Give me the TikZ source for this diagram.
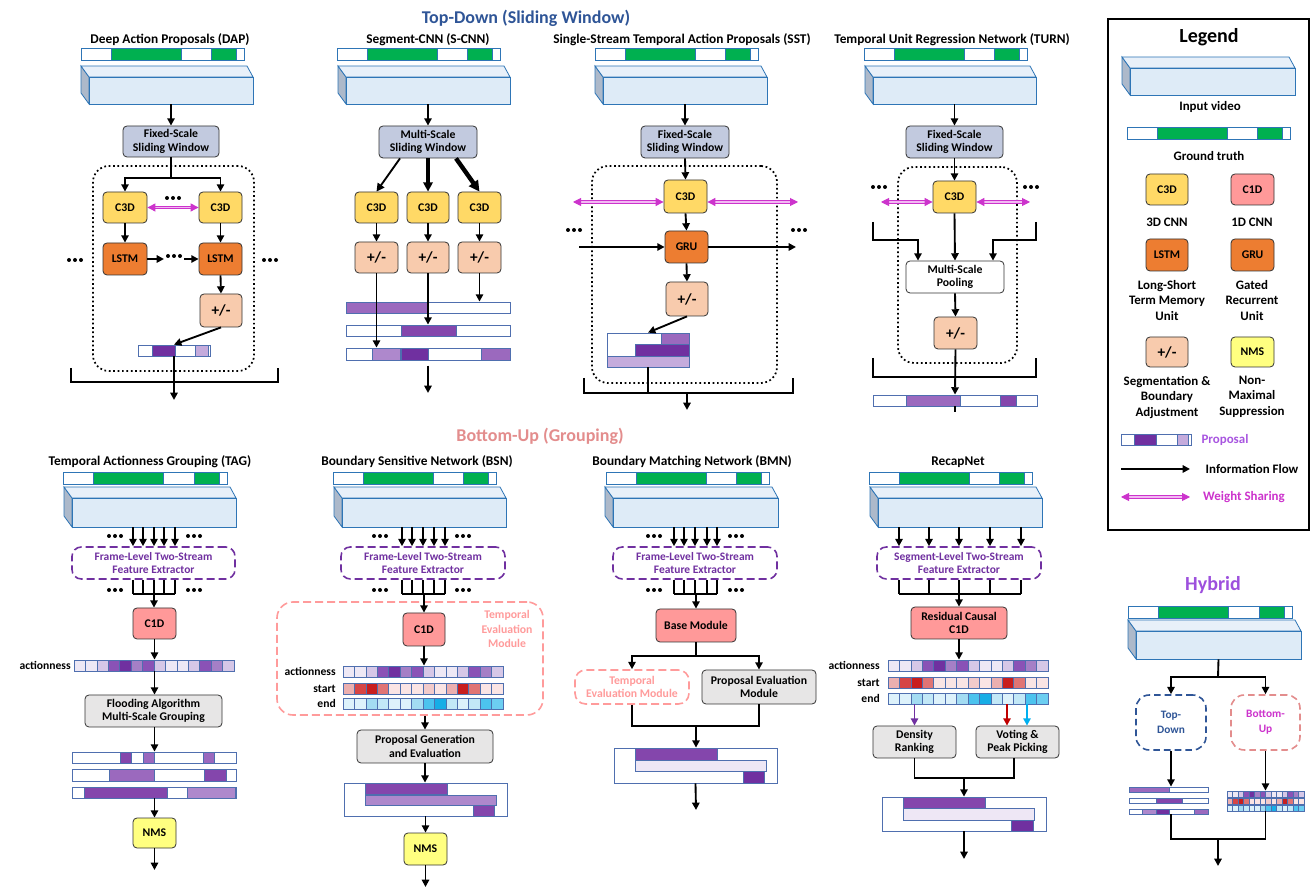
\documentclass[tikz,border=0pt]{standalone}
\usepackage{fontspec}
\setmainfont{Carlito}
\usetikzlibrary{arrows.meta}

\definecolor{vidb}{HTML}{2E75B6}
\definecolor{vidfront}{HTML}{DEEBF7}
\definecolor{vidtop}{HTML}{E8F0F9}
\definecolor{vidside}{HTML}{ADB9CA}
\definecolor{gtg}{HTML}{00B050}
\definecolor{pbord}{HTML}{4F6FAF}
\definecolor{prD}{HTML}{7030A0}
\definecolor{prM}{HTML}{8446AC}
\definecolor{prL}{HTML}{9B69BE}
\definecolor{prLL}{HTML}{AE88CC}
\definecolor{prVL}{HTML}{C5ABDC}
\definecolor{prW}{HTML}{EEE7F5}
\definecolor{pA}{HTML}{EEE8F5}
\definecolor{pB}{HTML}{D6C7E7}
\definecolor{pC}{HTML}{A57FC6}
\definecolor{pD}{HTML}{8A52B6}
\definecolor{pE}{HTML}{7030A0}
\definecolor{sA}{HTML}{FAE4E4}
\definecolor{sB}{HTML}{F2CACA}
\definecolor{sB2}{HTML}{ECAFAF}
\definecolor{sC}{HTML}{E07474}
\definecolor{sD}{HTML}{D64545}
\definecolor{sE}{HTML}{C81E1E}
\definecolor{eA}{HTML}{DDF2FB}
\definecolor{eB}{HTML}{C2E8F7}
\definecolor{eC}{HTML}{A3DCF2}
\definecolor{eD}{HTML}{4CC3EE}
\definecolor{eD2}{HTML}{6CCEF1}
\definecolor{eE}{HTML}{17ADE6}
\definecolor{slw}{HTML}{C2CADF}
\definecolor{c3dc}{HTML}{FFD966}
\definecolor{lstmc}{HTML}{ED7D31}
\definecolor{pmc}{HTML}{F8CBAD}
\definecolor{nmsc}{HTML}{FFFF80}
\definecolor{c1dc}{HTML}{FF9999}
\definecolor{grc}{HTML}{E7E6E6}
\definecolor{tdc}{HTML}{2F5597}
\definecolor{buc}{HTML}{E38D8D}
\definecolor{hyc}{HTML}{9D50DD}
\definecolor{temc}{HTML}{FF9B9B}
\definecolor{magc}{HTML}{CC33CC}
\definecolor{magl}{HTML}{F2B8F2}
\definecolor{purt}{HTML}{7030A0}
\definecolor{propc}{HTML}{A855E0}
\definecolor{redc}{HTML}{C00000}
\definecolor{cyanc}{HTML}{00B0F0}

\tikzset{
 fl/.style={line width=1.4pt},
 flow/.style={line width=1.4pt, -{Triangle[length=5.5pt,width=5.5pt]}},
 wsh/.style={draw=magc, line width=0.7pt, double=magl, double distance=1.3pt, {Triangle[length=6pt,width=6pt]}-{Triangle[length=6pt,width=6pt]}},
 bxs/.style={rounded corners=3pt, draw=black!80, line width=0.6pt, inner sep=0pt, align=center, font=\bfseries\fontsize{8.8}{10.3}\selectfont},
 slwb/.style={bxs, fill=slw},
 c3db/.style={bxs, fill=c3dc},
 lstmb/.style={bxs, fill=lstmc},
 pmb/.style={bxs, fill=pmc, font=\bfseries\fontsize{11.5}{12}\selectfont},
 nmsb/.style={bxs, fill=nmsc},
 c1db/.style={bxs, fill=c1dc},
 grb/.style={bxs, fill=grc},
 whb/.style={bxs, fill=white},
 dotb/.style={draw, line width=1.3pt, dash pattern=on 1.3pt off 2pt, rounded corners=12pt, inner sep=0pt},
 fext/.style={draw=purt, line width=1.2pt, dash pattern=on 6pt off 3pt, rounded corners=7pt, inner sep=0pt, align=center, text=purt, font=\bfseries\fontsize{8.6}{10.3}\selectfont},
 temb/.style={draw=temc, line width=1.2pt, dash pattern=on 6pt off 3pt, rounded corners=12pt, inner sep=0pt},
 ttl/.style={inner sep=0pt, font=\bfseries\fontsize{10}{11}\selectfont},
 sec/.style={inner sep=0pt, font=\bfseries\fontsize{13.5}{15}\selectfont},
 lbl/.style={inner sep=0pt, font=\bfseries\fontsize{8.7}{10}\selectfont},
 leg/.style={inner sep=0pt, align=center, font=\bfseries\fontsize{9.7}{11.5}\selectfont},
 barb/.style={draw=pbord, fill=white, line width=0.6pt, inner sep=0pt},
}

\newcommand\bx[7]{\node[#2, minimum width={0.75*(#5-#3)}, minimum height={0.75*(#6-#4)}] (#1) at ({(#3+#5)/2},{(#4+#6)/2}) {#7};}
\newcommand\video[5]{%
 \filldraw[fill=vidside, draw=vidb, line width=0.6pt] (#2-8,#3-11) -- (#2,#3) -- (#2,#5) -- (#2-8,#5-11) -- cycle;
 \filldraw[fill=vidtop, draw=vidb, line width=0.6pt] (#2-8,#3-11) -- (#4-6,#3-11) -- (#4,#3) -- (#2,#3) -- cycle;
 \bx{#1}{draw=vidb, fill=vidfront, line width=0.6pt, inner sep=0pt}{#2}{#3}{#4}{#5}{}}
\newcommand\gt[4]{%
 \bx{#1}{draw=vidb, fill=white, line width=0.6pt, inner sep=0pt}{#2}{#4}{#3}{#4+12}{}
 \filldraw[fill=gtg, draw=vidb, line width=0.6pt] ({#2+0.185*(#3-#2)},#4) rectangle ({#2+0.615*(#3-#2)},#4+12);
 \filldraw[fill=gtg, draw=vidb, line width=0.6pt] ({#2+0.80*(#3-#2)},#4) rectangle ({#2+0.955*(#3-#2)},#4+12);}
\newcommand\sg[5]{\filldraw[fill=#5, draw=pbord, line width=0.6pt] (#1,#3) rectangle (#2,#4);}
\newcommand\cells[6]{%
 \bx{#1}{draw=pbord, line width=0.6pt, inner sep=0pt}{#2}{#4}{#3}{#4+#5}{}
 \foreach \cc [count=\ii] in #6 {\filldraw[fill=\cc, draw=pbord, line width=0.5pt] ({#2+(\ii-1)*(#3-#2)/14},#4) rectangle ({#2+\ii*(#3-#2)/14},#4+#5);}}
\newcommand\tdots[2]{\foreach \dd in {-6,0,6} {\fill (#1+\dd,#2) circle[radius=1.5pt];}}
\def\actseq{pA,pA,pB,pD,pE,pC,pD,pB,pA,pA,pB,pD,pC,pB}
\def\startseq{sB2,sD,sE,sC,sA,sA,sA,sB,sA,sB2,sE,sC,sA,sA}
\def\endseq{eA,eA,eC,eB,eA,eA,eC,eD,eE,eB,eA,eB,eD,eD2}

\begin{document}
\begin{tikzpicture}[x=0.75pt,y=-0.75pt]
\useasboundingbox (0,0) rectangle (1315,887);
\fill[white] (0,0) rectangle (1315,887);

% ---------- section titles
\node[sec, text=tdc] (std) at (526,18) {Top-Down (Sliding Window)};
\node[sec, text=buc] (sbu) at (540,436) {Bottom-Up (Grouping)};

% ---------- DAP
\node[ttl] (tdap) at (170,40) {Deep Action Proposals (DAP)};
\gt{gdap}{81}{244}{48}
\video{vdap}{89}{77}{253}{104}
\bx{swdap}{slwb}{123}{126}{219}{157}{Fixed-Scale\\Sliding Window}
\draw[flow] (vdap.south) -- (swdap.north);
\bx{ddap}{dotb}{93}{166}{254}{371}{}
\bx{cadap}{c3db}{103}{192}{147}{223}{C3D}
\bx{cbdap}{c3db}{199}{192}{242}{223}{C3D}
\coordinate (jdap) at (171,178);
\draw[fl] (swdap.south) -- (jdap);
\draw[flow] (jdap) -| (cadap.north);
\draw[flow] (jdap) -| (cbdap.north);
\tdots{173}{198}
\draw[wsh] (cadap.east) -- (cbdap.west);
\bx{ladap}{lstmb}{103}{243}{147}{275}{LSTM}
\bx{lbdap}{lstmb}{199}{243}{242}{275}{LSTM}
\draw[flow] (cadap.south) -- (ladap.north);
\draw[flow] (cbdap.south) -- (lbdap.north);
\coordinate (ldap1) at (164,259);
\coordinate (ldap2) at (184,259);
\draw[flow] (ladap.east) -- (ldap1);
\tdots{174}{256}
\draw[flow] (ldap2) -- (lbdap.west);
\tdots{75}{260}
\tdots{270}{260}
\bx{pmdap}{pmb}{200}{294}{242}{327}{+/-}
\draw[flow] (lbdap.south) -- (pmdap.north);
\bx{prdap}{barb}{138}{345}{210}{356}{}
\sg{152}{175}{345}{356}{prD}
\sg{195}{208}{345}{356}{prVL}
\draw[flow] (pmdap.south) -- (prdap.north);
\coordinate (bdap) at (174,382);
\draw[fl] (71,368) |- (bdap) -| (278,368);
\coordinate (odap) at (174,400);
\draw[flow] (prdap.south) -- (odap);

% ---------- S-CNN
\node[ttl] (tscnn) at (428,40) {Segment-CNN (S-CNN)};
\gt{gscnn}{337}{500}{48}
\video{vscnn}{346}{77}{510}{104}
\bx{swscnn}{slwb}{379}{126}{477}{158}{Multi-Scale\\Sliding Window}
\draw[flow] (vscnn.south) -- (swscnn.north);
\bx{c1s}{c3db}{355}{192}{398}{223}{C3D}
\bx{c2s}{c3db}{407}{192}{449}{223}{C3D}
\bx{c3s}{c3db}{458}{192}{501}{223}{C3D}
\draw[line width=1.4pt, -{Triangle[length=6pt,width=6pt]}] ([xshift=-21pt]swscnn.south) -- (c1s.north);
\draw[line width=2.3pt, -{Triangle[length=7pt,width=7pt]}] (swscnn.south) -- (c2s.north);
\draw[line width=3.3pt, -{Triangle[length=8pt,width=8pt]}] ([xshift=21pt]swscnn.south) -- (c3s.north);
\bx{p1s}{pmb}{355}{242}{398}{273}{+/-}
\bx{p2s}{pmb}{407}{242}{449}{273}{+/-}
\bx{p3s}{pmb}{458}{242}{501}{273}{+/-}
\draw[flow] (c1s.south) -- (p1s.north);
\draw[flow] (c2s.south) -- (p2s.north);
\draw[flow] (c3s.south) -- (p3s.north);
\bx{b1s}{barb}{346}{302}{510}{313}{}
\sg{346}{427}{302}{313}{prL}
\bx{b2s}{barb}{346}{325}{510}{336}{}
\sg{401}{456}{325}{336}{prM}
\bx{b3s}{barb}{346}{348}{510}{360}{}
\sg{372}{400}{348}{360}{prLL}
\sg{401}{428}{348}{360}{prD}
\sg{481}{510}{348}{360}{prL}
\draw[flow] (p1s.south) -- (p1s.south |- b3s.north);
\draw[flow] (p2s.south) -- (p2s.south |- b2s.north);
\draw[flow] (p3s.south) -- (p3s.south |- b1s.north);
\coordinate (oscnn) at (428,393);
\draw[flow] ([yshift=-4pt]b3s.south) -- (oscnn);

% ---------- SST
\node[ttl] (tsst) at (682,40) {Single-Stream Temporal Action Proposals (SST)};
\gt{gsst}{595}{758}{48}
\video{vsst}{603}{77}{767}{104}
\bx{swsst}{slwb}{641}{126}{729}{158}{Fixed-Scale\\Sliding Window}
\draw[flow] (vsst.south) -- (swsst.north);
\bx{dsst}{dotb}{592}{166}{777}{383}{}
\bx{csst}{c3db}{664}{180}{707}{213}{C3D}
\draw[flow] (swsst.south) -- (csst.north);
\coordinate (wsl) at (573,202);
\coordinate (wsr) at (798,202);
\draw[wsh] (wsl) -- (wsl -| csst.west);
\draw[wsh] (wsr -| csst.east) -- (wsr);
\tdots{574}{230}
\tdots{799}{230}
\bx{gsstu}{lstmb}{665}{231}{708}{263}{GRU}
\draw[flow] (csst.south) -- (gsstu.north);
\coordinate (gl) at (579,247);
\coordinate (gr) at (796,247);
\draw[flow] (gl) -- (gsstu.west);
\draw[flow] (gsstu.east) -- (gr);
\bx{pmsst}{pmb}{666}{282}{708}{316}{+/-}
\draw[flow] (gsstu.south) -- (pmsst.north);
\bx{stsst}{barb}{607}{333}{689}{367}{}
\sg{661}{689}{333}{344}{prL}
\sg{635}{689}{344}{356}{prD}
\sg{607}{689}{356}{367}{prVL}
\draw[flow] (pmsst.south) -- (stsst.north);
\coordinate (bsst) at (648,393);
\draw[fl] (584,378) |- (bsst) -| (793,378);
\draw[fl] (stsst.south) -- (bsst);
\coordinate (osst1) at (687,393);
\coordinate (osst2) at (687,410);
\draw[flow] (osst1) -- (osst2);

% ---------- TURN
\node[ttl] (tturn) at (952,40) {Temporal Unit Regression Network (TURN)};
\gt{gturn}{864}{1027}{48}
\video{vturn}{873}{77}{1036}{104}
\bx{swturn}{slwb}{906}{126}{1003}{158}{Fixed-Scale\\Sliding Window}
\draw[flow] (vturn.south) -- (swturn.north);
\bx{dturn}{dotb}{898}{167}{1017}{363}{}
\bx{cturn}{c3db}{933}{181}{976}{213}{C3D}
\draw[flow] (swturn.south) -- (cturn.north);
\tdots{879}{187}
\tdots{1031}{187}
\coordinate (twl) at (881,202);
\coordinate (twr) at (1030,202);
\draw[wsh] (twl) -- (twl -| cturn.west);
\draw[wsh] (twr -| cturn.east) -- (twr);
\bx{poturn}{whb}{906}{261}{1004}{293}{Multi-Scale\\Pooling}
\draw[flow] (cturn.south) -- (poturn.north);
\coordinate (tl) at (873,222);
\coordinate (tlk) at (918,240);
\coordinate (tr) at (1036,222);
\coordinate (trk) at (993,240);
\draw[flow] (tl) |- (tlk) -- (tlk |- poturn.north);
\draw[flow] (tr) |- (trk) -- (trk |- poturn.north);
\bx{pmturn}{pmb}{934}{317}{977}{349}{+/-}
\draw[flow] (poturn.south) -- (pmturn.north);
\coordinate (bturn) at (955,377);
\draw[fl] (873,358) |- (bturn) -| (1036,358);
\bx{prturn}{barb}{873}{395}{1037}{406}{}
\sg{906}{960}{395}{406}{prL}
\sg{1000}{1016}{395}{406}{prM}
\draw[flow] (pmturn.south) -- (prturn.north);
\coordinate (oturn) at (955,412);
\draw[fl] (prturn.south) -- (oturn);

% ---------- Legend
\bx{legbox}{draw, line width=1.6pt}{1108}{19}{1309}{530}{}
\node[inner sep=0pt, font=\bfseries\fontsize{15}{17}\selectfont] (legt) at (1209,37) {Legend};
\video{lvid}{1130}{68}{1295}{95}
\node[leg] (lvidt) at (1210,107) {Input video};
\gt{lgt}{1127}{1290}{127}
\node[leg] (lgtt) at (1209,156) {Ground truth};
\bx{lc3d}{c3db}{1146}{174}{1188}{205}{C3D}
\bx{lc1d}{c1db}{1231}{174}{1274}{205}{C1D}
\node[leg] (lc3dt) at (1167,222) {3D CNN};
\node[leg] (lc1dt) at (1252,222) {1D CNN};
\bx{llstm}{lstmb}{1146}{239}{1188}{271}{LSTM}
\bx{lgru}{lstmb}{1231}{239}{1274}{271}{GRU}
\node[leg, anchor=north] (llstmt) at (1167,280) {Long-Short\\Term Memory\\Unit};
\node[leg, anchor=north] (lgrut) at (1252,280) {Gated\\Recurrent\\Unit};
\bx{lpm}{pmb}{1146}{337}{1188}{367}{+/-}
\bx{lnms}{nmsb}{1231}{337}{1274}{367}{NMS}
\node[leg, anchor=north] (lpmt) at (1167,376) {Segmentation \&\\Boundary\\Adjustment};
\node[leg, anchor=north] (lnmst) at (1252,376) {Non-\\Maximal\\Suppression};
\bx{lprop}{barb}{1121}{434}{1191}{445}{}
\sg{1134}{1156}{434}{445}{prD}
\sg{1177}{1188}{434}{445}{prVL}
\node[leg, text=propc] (lpropt) at (1225,440) {Proposal};
\coordinate (lf1) at (1121,469);
\coordinate (lf2) at (1190,469);
\draw[flow] (lf1) -- (lf2);
\node[leg] (lft) at (1252,469) {Information Flow};
\coordinate (lw1) at (1121,497);
\coordinate (lw2) at (1190,497);
\draw[wsh] (lw1) -- (lw2);
\node[leg, text=magc] (lwt) at (1244,497) {Weight Sharing};

% ---------- Hybrid
\node[inner sep=0pt, text=hyc, font=\bfseries\fontsize{15}{17}\selectfont] (thyb) at (1213,585) {Hybrid};
\gt{ghyb}{1128}{1292}{606}
\video{vhyb}{1136}{631}{1301}{659}
\coordinate (jhyb) at (1218,677);
\draw[fl] (vhyb.south) -- (jhyb);
\bx{tdh}{draw=tdc, dash pattern=on 5pt off 3pt, line width=1.2pt, rounded corners=10pt, text=tdc, align=center, inner sep=0pt, font=\bfseries\fontsize{8.5}{11}\selectfont}{1136}{695}{1206}{750}{Top-\\Down}
\bx{buh}{draw=buc, dash pattern=on 5pt off 3pt, line width=1.2pt, rounded corners=10pt, text=magc, align=center, inner sep=0pt, font=\bfseries\fontsize{8.5}{11}\selectfont}{1231}{695}{1300}{750}{Bottom-\\Up}
\draw[flow] (jhyb) -| (tdh.north);
\draw[flow] (jhyb) -| (buh.north);
\bx{hb1}{barb}{1129}{787}{1208}{792}{}
\sg{1129}{1169}{787}{792}{prL}
\bx{hb2}{barb}{1129}{798}{1208}{803}{}
\sg{1156}{1182}{798}{803}{prM}
\bx{hb3}{barb}{1129}{809}{1208}{814}{}
\sg{1142}{1156}{809}{814}{prLL}
\sg{1156}{1169}{809}{814}{prD}
\sg{1194}{1208}{809}{814}{prL}
\cells{hc1}{1227}{1304}{791}{6}{\actseq}
\cells{hc2}{1227}{1304}{798}{6}{\startseq}
\cells{hc3}{1227}{1304}{805}{6}{\endseq}
\draw[flow] (tdh.south) -- (tdh.south |- hb1.north);
\draw[flow] (buh.south) -- (buh.south |- hc1.north);
\coordinate (jh2) at (1218,839);
\coordinate (oh) at (1218,866);
\draw[fl] (tdh.south |- hb3.south) |- (jh2) -| (buh.south |- hc3.south);
\draw[flow] (jh2) -- (oh);

% ---------- TAG
\node[ttl] (ttag) at (150,462) {Temporal Actionness Grouping (TAG)};
\gt{gtag}{63}{227}{472}
\video{vtag}{72}{498}{236}{527}
\bx{ftag}{fext}{72}{547}{235}{579}{Frame-Level Two-Stream\\Feature Extractor}
\foreach \xx in {133,143,154,164,175} {\draw[flow] (\xx,0 |- vtag.south) -- (\xx,0 |- ftag.north); \draw[fl] (\xx,0 |- ftag.south) -- (\xx,594);}
\draw[fl] (133,594) -- (175,594);
\tdots{115}{536}
\tdots{194}{536}
\tdots{115}{590}
\tdots{194}{590}
\bx{c1tag}{c1db}{133}{608}{176}{639}{C1D}
\coordinate (jtag) at (154,594);
\draw[flow] (jtag) -- (jtag |- c1tag.north);
\cells{atag}{74}{234}{660}{11}{\actseq}
\node[lbl, anchor=east] (latag) at (71,665.5) {actionness};
\draw[flow] (c1tag.south) -- (c1tag.south |- atag.north);
\bx{fltag}{grb}{85}{695}{222}{727}{Flooding Algorithm\\Multi-Scale Grouping}
\draw[flow] (atag.south -| c1tag.south) -- (fltag.north -| c1tag.south);
\bx{b1tag}{barb}{72}{752}{236}{763}{}
\sg{120}{131}{752}{763}{prM}
\sg{143}{154}{752}{763}{prL}
\sg{203}{214}{752}{763}{prL}
\bx{b2tag}{barb}{72}{769}{236}{781}{}
\sg{109}{154}{769}{781}{prL}
\sg{204}{226}{769}{781}{prM}
\bx{b3tag}{barb}{72}{787}{236}{798}{}
\sg{84}{167}{787}{798}{prM}
\sg{187}{235}{787}{798}{prLL}
\draw[flow] (fltag.south -| c1tag.south) -- (b1tag.north -| c1tag.south);
\bx{nmstag}{nmsb}{133}{818}{176}{848}{NMS}
\draw[flow] (b3tag.south -| nmstag.north) -- (nmstag.north);
\coordinate (otag) at (154.5,870);
\draw[flow] (nmstag.south) -- (otag);

% ---------- BSN
\node[ttl] (tbsn) at (417,462) {Boundary Sensitive Network (BSN)};
\gt{gbsn}{333}{496}{472}
\video{vbsn}{342}{498}{506}{527}
\bx{fbsn}{fext}{341}{547}{505}{579}{Frame-Level Two-Stream\\Feature Extractor}
\foreach \xx in {402,412,423,434,445} {\draw[flow] (\xx,0 |- vbsn.south) -- (\xx,0 |- fbsn.north); \draw[fl] (\xx,0 |- fbsn.south) -- (\xx,594);}
\draw[fl] (402,594) -- (445,594);
\tdots{380}{536}
\tdots{463}{536}
\tdots{380}{590}
\tdots{463}{590}
\bx{tembsn}{temb}{277}{602}{543}{715}{}
\node[lbl, text=temc, align=center, font=\bfseries\fontsize{8.8}{10.7}\selectfont] (tembt) at (507,629) {Temporal\\Evaluation\\Module};
\bx{c1bsn}{c1db}{403}{613}{445}{646}{C1D}
\coordinate (jbsn) at (424,594);
\draw[flow] (jbsn) -- (jbsn |- c1bsn.north);
\cells{abs}{343}{503}{666}{11}{\actseq}
\cells{sbs}{343}{503}{683}{11}{\startseq}
\cells{ebs}{343}{503}{698}{11}{\endseq}
\node[lbl, anchor=east] (labs) at (336,671.5) {actionness};
\node[lbl, anchor=east] (lsbs) at (336,688.5) {start};
\node[lbl, anchor=east] (lebs) at (336,703.5) {end};
\draw[flow] (c1bsn.south) -- (c1bsn.south |- abs.north);
\bx{pgbsn}{grb}{357}{730}{493}{763}{Proposal Generation\\and Evaluation}
\draw[flow] (tembsn.south -| pgbsn.north) -- (pgbsn.north);
\bx{stbsn}{barb}{344}{783}{507}{816}{}
\sg{365}{447}{783}{794}{prM}
\sg{365}{496}{795}{805}{prLL}
\sg{473}{494}{805}{816}{prM}
\draw[flow] (pgbsn.south) -- (pgbsn.south |- stbsn.north);
\bx{nmsbsn}{nmsb}{404}{833}{447}{865}{NMS}
\draw[flow] (stbsn.south -| nmsbsn.north) -- (nmsbsn.north);
\coordinate (obsn) at (425.5,887);
\draw[flow] (nmsbsn.south) -- (obsn);

% ---------- BMN
\node[ttl] (tbmn) at (692,462) {Boundary Matching Network (BMN)};
\gt{gbmn}{606}{769}{472}
\video{vbmn}{613}{498}{778}{527}
\bx{fbmn}{fext}{613}{547}{777}{579}{Frame-Level Two-Stream\\Feature Extractor}
\foreach \xx in {674,684,695,707,717} {\draw[flow] (\xx,0 |- vbmn.south) -- (\xx,0 |- fbmn.north); \draw[fl] (\xx,0 |- fbmn.south) -- (\xx,594);}
\draw[fl] (674,594) -- (717,594);
\tdots{654}{536}
\tdots{736}{536}
\tdots{654}{590}
\tdots{736}{590}
\bx{basebmn}{c1db}{656}{609}{736}{642}{Base Module}
\coordinate (j0bmn) at (696,594);
\draw[flow] (j0bmn) -- (basebmn.north);
\coordinate (jbmn) at (696,656);
\draw[fl] (basebmn.south) -- (jbmn);
\bx{tembmn}{temb, rounded corners=8pt, text=temc, align=center, font=\bfseries\fontsize{8.8}{10.3}\selectfont}{575}{670}{689}{704}{Temporal\\Evaluation Module}
\bx{pebmn}{grb}{702}{670}{816}{704}{Proposal Evaluation\\Module}
\draw[flow] (jbmn) -| (tembmn.north);
\draw[flow] (jbmn) -| (pebmn.north);
\coordinate (j2bmn) at (696,726);
\draw[fl] (tembmn.south) |- (j2bmn) -| (pebmn.south);
\bx{stbmn}{barb}{614}{748}{777}{783}{}
\sg{635}{717}{748}{760}{prM}
\sg{635}{766}{760}{771}{prW}
\sg{743}{764}{771}{783}{prD}
\draw[flow] (j2bmn) -- (j2bmn |- stbmn.north);
\coordinate (obmn) at (696,810);
\draw[flow] (stbmn.south) -- (obmn);

% ---------- RecapNet
\node[ttl] (trec) at (958,462) {RecapNet};
\gt{grec}{869}{1032}{472}
\video{vrec}{878}{498}{1042}{527}
\bx{frec}{fext}{877}{547}{1041}{579}{Segment-Level Two-Stream\\Feature Extractor}
\foreach \xx in {899,929,959,990,1021} {\draw[flow] (\xx,0 |- vrec.south) -- (\xx,0 |- frec.north); \draw[fl] (\xx,0 |- frec.south) -- (\xx,594);}
\draw[fl] (899,594) -- (1021,594);
\bx{rcrec}{c1db}{911}{607}{1007}{639}{Residual Causal\\C1D}
\coordinate (jrec) at (959,594);
\draw[flow] (jrec) -- (rcrec.north);
\cells{arec}{888}{1048}{660}{11}{\actseq}
\cells{srec}{888}{1048}{677}{11}{\startseq}
\cells{erec}{888}{1048}{693}{11}{\endseq}
\node[lbl, anchor=east] (larec) at (880,665.5) {actionness};
\node[lbl, anchor=east] (lsrec) at (880,682.5) {start};
\node[lbl, anchor=east] (lerec) at (880,698.5) {end};
\draw[flow] (rcrec.south) -- (rcrec.south |- arec.north);
\bx{drrec}{grb}{873}{726}{956}{758}{Density\\Ranking}
\bx{vprec}{grb}{976}{726}{1059}{758}{Voting \&\\Peak Picking}
\draw[flow, draw=prD, fill=prD] (914.5,0 |- erec.south) -- (drrec.north);
\draw[flow, draw=redc, fill=redc] (1007,0 |- erec.south) -- (1007,0 |- vprec.north);
\draw[flow, draw=cyanc, fill=cyanc] (1027,0 |- erec.south) -- (1027,0 |- vprec.north);
\coordinate (j2rec) at (964,778);
\draw[fl] (drrec.south) |- (j2rec) -| (1014,0 |- vprec.south);
\bx{strec}{barb}{882}{797}{1046}{831}{}
\sg{903}{985}{797}{808}{prM}
\sg{903}{1034}{808}{820}{prW}
\sg{1011}{1033}{820}{831}{prD}
\draw[flow] (j2rec) -- (j2rec |- strec.north);
\coordinate (orec) at (964,859);
\draw[flow] (strec.south) -- (orec);

\end{tikzpicture}
\end{document}
